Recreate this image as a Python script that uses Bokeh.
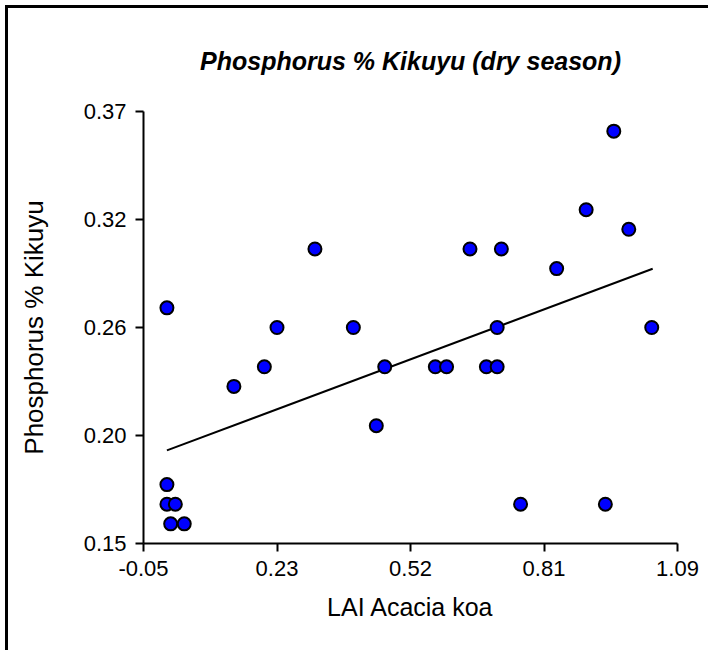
from bokeh.plotting import figure
from bokeh.models import FixedTicker, Range1d, ColumnDataSource
from bokeh.embed import file_html
from bokeh.resources import INLINE

# ---- data ----
lai = [0.000, 0.000, 0.000, 0.018, 0.008, 0.037, 0.143, 0.208, 0.235, 0.316,
       0.398, 0.447, 0.465, 0.573, 0.597, 0.647, 0.682, 0.705, 0.705, 0.714,
       0.755, 0.832, 0.895, 0.936, 0.954, 0.986, 1.035]
phosphorus = [0.27, 0.18, 0.17, 0.17, 0.16, 0.16, 0.23, 0.24, 0.26, 0.30,
              0.26, 0.21, 0.24, 0.24, 0.24, 0.30, 0.24, 0.24, 0.26, 0.30,
              0.17, 0.29, 0.32, 0.17, 0.36, 0.31, 0.26]

# regression line end points
fit_x = [0.000, 1.037]
fit_y = [0.1974, 0.2899]

x_ticks = [-0.05, 0.235, 0.52, 0.805, 1.09]
x_tick_labels = ["-0.05", "0.23", "0.52", "0.81", "1.09"]
y_ticks = [0.15, 0.205, 0.26, 0.315, 0.37]
y_tick_labels = ["0.15", "0.20", "0.26", "0.32", "0.37"]

title_text = "Phosphorus % Kikuyu (dry season)"
x_label = "LAI Acacia koa"
y_label = "Phosphorus % Kikuyu"

FONT = "Liberation Sans"

# canvas starts at (8, 8) after a 5px margin and a 3px border on left/top
p = figure(width=703, height=645, output_backend="svg", toolbar_location=None,
           x_range=Range1d(x_ticks[0], x_ticks[-1]),
           y_range=Range1d(y_ticks[0], y_ticks[-1]),
           min_border_left=135, min_border_right=34,
           min_border_top=103, min_border_bottom=110,
           title=title_text)

p.styles = {"margin-left": "5px", "margin-top": "5px",
            "border-left": "3px solid black", "border-top": "3px solid black"}

p.outline_line_color = None
p.grid.visible = False
p.background_fill_color = "white"
p.border_fill_color = "white"

p.title.align = "center"
p.title.text_font = FONT
p.title.text_font_size = "25px"
p.title.text_font_style = "bold italic"
p.title.text_color = "black"
p.title.standoff = 73

for ax, ticks, labels in ((p.xaxis[0], x_ticks, x_tick_labels),
                          (p.yaxis[0], y_ticks, y_tick_labels)):
    ax.ticker = FixedTicker(ticks=ticks, minor_ticks=[])
    ax.major_label_overrides = {t: l for t, l in zip(ticks, labels)}
    ax.axis_line_width = 2
    ax.axis_line_color = "black"
    ax.major_tick_line_width = 2
    ax.major_tick_line_color = "black"
    ax.major_tick_out = 8
    ax.major_tick_in = 0
    ax.minor_tick_out = 0
    ax.minor_tick_in = 0
    ax.major_label_text_font = FONT
    ax.major_label_text_font_size = "22px"
    ax.major_label_text_color = "black"
    ax.axis_label_text_font = FONT
    ax.axis_label_text_font_size = "25px"
    ax.axis_label_text_font_style = "normal"
    ax.axis_label_text_color = "black"

p.yaxis[0].axis_label_text_font_size = "26px"
p.xaxis[0].axis_label = x_label
p.yaxis[0].axis_label = y_label
p.xaxis[0].major_label_standoff = 9
p.yaxis[0].major_label_standoff = 9
p.xaxis[0].axis_label_standoff = 14
p.yaxis[0].axis_label_standoff = 32

p.line(fit_x, fit_y, line_color="black", line_width=2)

src = ColumnDataSource(dict(x=lai, y=phosphorus))
p.scatter("x", "y", source=src, size=13, fill_color="#0000FF",
          line_color="black", line_width=2)

open("out.html", "w").write(file_html(p, INLINE))
